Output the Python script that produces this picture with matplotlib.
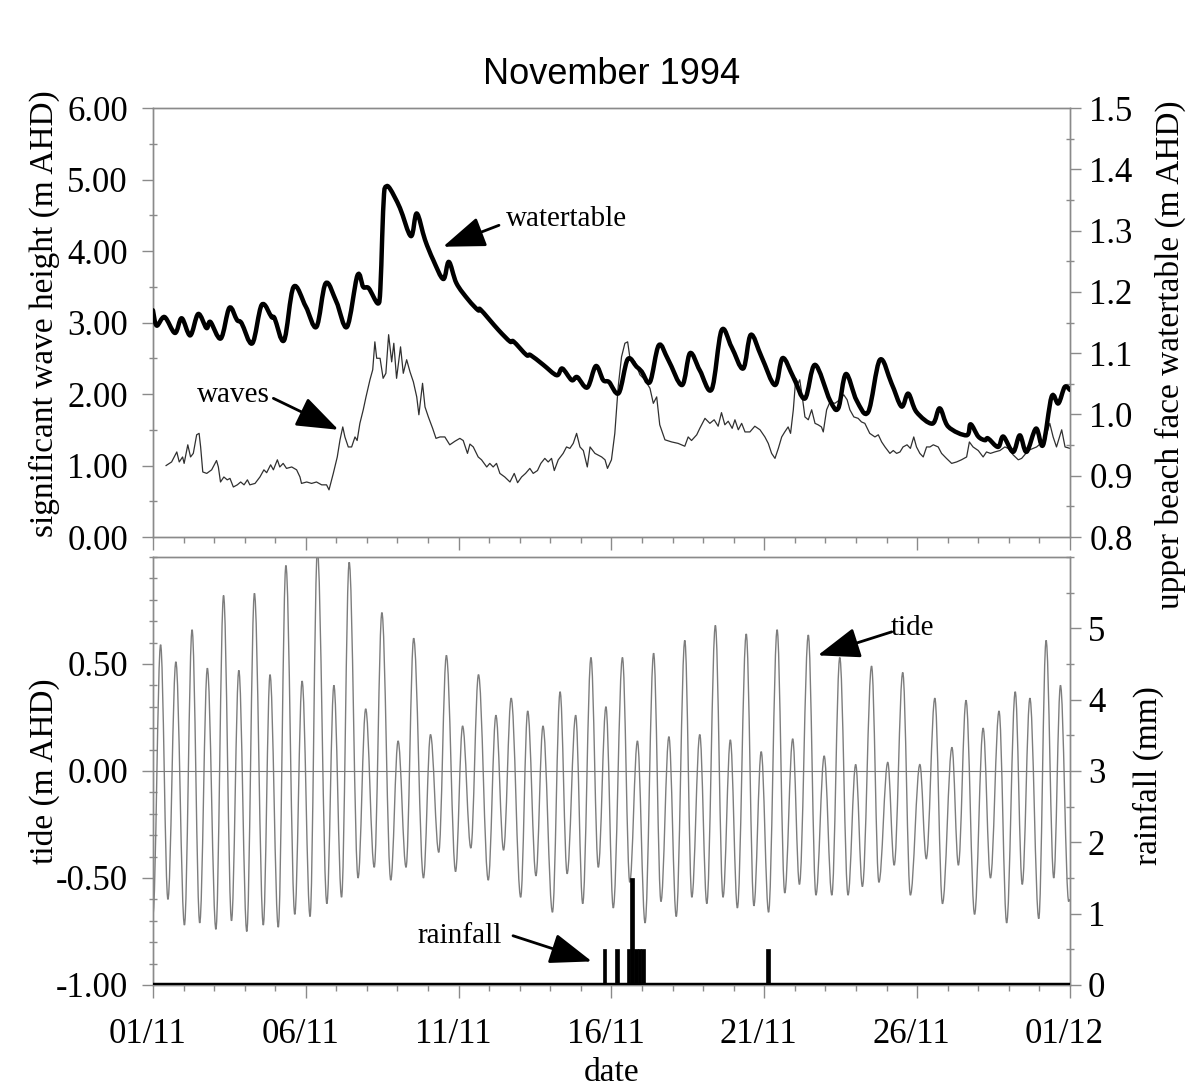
import matplotlib
matplotlib.use("Agg")
import matplotlib.pyplot as plt
import matplotlib.transforms as mtransforms
from matplotlib.path import Path
from matplotlib.patches import PathPatch
from matplotlib.ticker import FixedLocator, MultipleLocator

# ---------------- data ----------------
date_ticks = [0, 5, 10, 15, 20, 25, 30]
date_labels = ["01/11", "06/11", "11/11", "16/11", "21/11", "26/11", "01/12"]

wave_ticks = [0, 1, 2, 3, 4, 5, 6]
wave_labels = ["0.00", "1.00", "2.00", "3.00", "4.00", "5.00", "6.00"]
wt_ticks = [0.8, 0.9, 1.0, 1.1, 1.2, 1.3, 1.4, 1.5]
wt_labels = ["0.8", "0.9", "1.0", "1.1", "1.2", "1.3", "1.4", "1.5"]
tide_ticks = [-1.0, -0.5, 0.0, 0.5]
tide_labels = ["-1.00", "-0.50", "0.00", "0.50"]
rain_ticks = [0, 1, 2, 3, 4, 5]
rain_labels = ["0", "1", "2", "3", "4", "5"]

# upper beach face watertable: (days since 01/11, m AHD)
watertable = [
    (0.00, 1.170), (0.12, 1.145), (0.38, 1.159), (0.72, 1.133), (0.94, 1.157),
    (1.22, 1.129), (1.48, 1.164), (1.75, 1.141), (1.88, 1.151), (2.22, 1.124),
    (2.50, 1.174), (2.75, 1.154), (2.90, 1.149), (3.25, 1.116), (3.56, 1.179),
    (3.88, 1.159), (3.98, 1.157), (4.29, 1.121), (4.60, 1.208), (5.00, 1.176),
    (5.35, 1.143), (5.65, 1.214), (6.00, 1.184), (6.35, 1.143), (6.69, 1.227),
    (6.88, 1.208), (7.06, 1.206), (7.36, 1.181), (7.44, 1.205), (7.50, 1.290),
    (7.56, 1.360), (7.63, 1.372), (7.76, 1.368), (8.08, 1.337), (8.44, 1.291),
    (8.63, 1.328), (8.90, 1.285), (9.17, 1.252), (9.50, 1.221), (9.68, 1.249),
    (9.93, 1.214), (10.32, 1.187), (10.64, 1.170), (10.72, 1.171), (11.30, 1.138),
    (11.68, 1.119), (11.80, 1.119), (12.22, 1.097), (12.35, 1.097), (12.77, 1.081),
    (13.21, 1.064), (13.39, 1.075), (13.70, 1.056), (13.88, 1.061), (14.21, 1.044),
    (14.49, 1.079), (14.73, 1.056), (14.92, 1.053), (15.24, 1.035), (15.53, 1.090),
    (15.82, 1.078), (15.99, 1.070), (16.26, 1.053), (16.55, 1.113), (16.86, 1.089),
    (17.31, 1.048), (17.57, 1.100), (17.89, 1.072), (18.28, 1.041), (18.60, 1.137),
    (18.93, 1.110), (19.31, 1.075), (19.56, 1.130), (19.91, 1.094), (20.35, 1.048),
    (20.60, 1.092), (20.95, 1.061), (21.33, 1.026), (21.66, 1.081), (22.15, 1.023),
    (22.42, 1.010), (22.67, 1.066), (23.02, 1.023), (23.40, 1.004), (23.78, 1.089),
    (24.16, 1.051), (24.49, 1.013), (24.71, 1.034), (24.98, 1.004), (25.50, 0.985),
    (25.74, 1.010), (26.02, 0.980), (26.62, 0.966), (26.75, 0.984), (27.00, 0.964),
    (27.22, 0.958), (27.32, 0.961), (27.65, 0.947), (27.82, 0.964), (28.14, 0.939),
    (28.36, 0.966), (28.58, 0.939), (28.89, 0.977), (29.12, 0.950), (29.40, 1.029),
    (29.62, 1.018), (29.83, 1.045), (30.00, 1.040),
]

# significant wave height: (days since 01/11, m)
waves = [
    (0.43, 1.00), (0.61, 1.05), (0.78, 1.19), (0.86, 1.05), (0.97, 1.12),
    (1.02, 1.03), (1.14, 1.29), (1.23, 1.12), (1.32, 1.17), (1.43, 1.43),
    (1.51, 1.45), (1.56, 1.26), (1.63, 0.91), (1.76, 0.89), (1.92, 0.94),
    (2.08, 1.07), (2.14, 0.98), (2.21, 0.77), (2.32, 0.84), (2.43, 0.80),
    (2.52, 0.82), (2.63, 0.70), (2.76, 0.73), (2.87, 0.77), (2.98, 0.73),
    (3.09, 0.80), (3.17, 0.73), (3.34, 0.75), (3.50, 0.84), (3.63, 0.94),
    (3.72, 0.90), (3.85, 1.01), (3.94, 0.94), (4.07, 1.08), (4.15, 0.98),
    (4.26, 1.03), (4.37, 0.96), (4.54, 0.98), (4.70, 0.94), (4.81, 0.84),
    (4.86, 0.75), (5.03, 0.77), (5.19, 0.75), (5.35, 0.77), (5.52, 0.73),
    (5.68, 0.73), (5.76, 0.66), (5.90, 0.89), (6.03, 1.12), (6.12, 1.36),
    (6.21, 1.54), (6.28, 1.40), (6.39, 1.26), (6.50, 1.26), (6.61, 1.40),
    (6.68, 1.35), (6.77, 1.59), (6.88, 1.78), (6.97, 1.96), (7.10, 2.20),
    (7.19, 2.34), (7.26, 2.73), (7.32, 2.50), (7.43, 2.50), (7.53, 2.22),
    (7.62, 2.29), (7.71, 2.83), (7.81, 2.45), (7.88, 2.71), (7.97, 2.22),
    (8.10, 2.66), (8.19, 2.29), (8.30, 2.48), (8.41, 2.31), (8.52, 2.17),
    (8.63, 1.96), (8.70, 1.71), (8.82, 2.15), (8.90, 1.82), (9.01, 1.68),
    (9.15, 1.52), (9.26, 1.38), (9.39, 1.40), (9.55, 1.40), (9.71, 1.29),
    (9.88, 1.34), (10.04, 1.38), (10.15, 1.35), (10.29, 1.17), (10.37, 1.30),
    (10.48, 1.26), (10.64, 1.12), (10.75, 1.08), (10.92, 0.98), (11.02, 1.03),
    (11.13, 0.98), (11.24, 1.03), (11.35, 0.89), (11.51, 0.84), (11.68, 0.77),
    (11.82, 0.89), (11.93, 0.76), (12.06, 0.84), (12.19, 0.89), (12.33, 0.96),
    (12.44, 0.89), (12.58, 0.93), (12.69, 1.03), (12.82, 1.10), (12.93, 1.05),
    (13.04, 1.10), (13.13, 0.93), (13.26, 1.08), (13.42, 1.17), (13.53, 1.26),
    (13.64, 1.24), (13.75, 1.31), (13.86, 1.45), (13.97, 1.26), (14.08, 1.21),
    (14.21, 0.98), (14.30, 1.26), (14.46, 1.17), (14.68, 1.12), (14.79, 1.08),
    (14.87, 0.96), (15.00, 1.08), (15.11, 1.45), (15.22, 2.10), (15.33, 2.52),
    (15.44, 2.71), (15.53, 2.73), (15.60, 2.52), (15.77, 2.45), (15.93, 2.27),
    (16.09, 2.20), (16.26, 2.08), (16.37, 1.87), (16.48, 1.96), (16.58, 1.57),
    (16.75, 1.36), (16.97, 1.33), (17.18, 1.31), (17.40, 1.27), (17.51, 1.40),
    (17.62, 1.35), (17.79, 1.43), (17.89, 1.52), (18.06, 1.66), (18.22, 1.59),
    (18.36, 1.64), (18.49, 1.55), (18.60, 1.74), (18.71, 1.57), (18.82, 1.62),
    (18.95, 1.52), (19.04, 1.64), (19.15, 1.50), (19.26, 1.59), (19.37, 1.47),
    (19.53, 1.47), (19.69, 1.55), (19.86, 1.50), (20.02, 1.40), (20.13, 1.31),
    (20.24, 1.17), (20.35, 1.10), (20.46, 1.24), (20.57, 1.40), (20.67, 1.47),
    (20.78, 1.54), (20.86, 1.45), (20.95, 1.78), (21.03, 2.22), (21.11, 2.15),
    (21.16, 2.20), (21.25, 1.94), (21.33, 1.68), (21.44, 1.64), (21.55, 1.78),
    (21.66, 1.59), (21.76, 1.57), (21.87, 1.54), (21.93, 1.47), (22.04, 1.78),
    (22.15, 1.89), (22.31, 1.87), (22.47, 1.92), (22.60, 1.99), (22.71, 1.92),
    (22.80, 1.78), (22.93, 1.68), (23.07, 1.66), (23.18, 1.61), (23.29, 1.59),
    (23.45, 1.45), (23.62, 1.40), (23.73, 1.43), (23.84, 1.33), (23.95, 1.26),
    (24.11, 1.17), (24.22, 1.21), (24.33, 1.17), (24.44, 1.19), (24.54, 1.26),
    (24.67, 1.29), (24.78, 1.24), (24.89, 1.40), (24.98, 1.26), (25.09, 1.17),
    (25.20, 1.12), (25.31, 1.26), (25.42, 1.26), (25.53, 1.29), (25.69, 1.26),
    (25.80, 1.17), (25.96, 1.10), (26.13, 1.03), (26.29, 1.05), (26.45, 1.08),
    (26.62, 1.12), (26.71, 1.33), (26.83, 1.26), (27.00, 1.21), (27.16, 1.12),
    (27.27, 1.19), (27.40, 1.17), (27.54, 1.19), (27.71, 1.21), (27.87, 1.26),
    (27.98, 1.24), (28.14, 1.15), (28.31, 1.08), (28.42, 1.10), (28.52, 1.15),
    (28.63, 1.21), (28.91, 1.26), (29.18, 1.36), (29.34, 1.59), (29.45, 1.40),
    (29.56, 1.26), (29.73, 1.50), (29.84, 1.26), (30.00, 1.24),
]

# tide: successive high and low water levels (days since 01/11, m AHD)
tide = [
    (0.00, -0.67), (0.25, 0.59), (0.49, -0.60), (0.75, 0.51), (1.03, -0.72),
    (1.28, 0.66), (1.53, -0.71), (1.78, 0.48), (2.06, -0.74), (2.31, 0.82),
    (2.57, -0.70), (2.81, 0.47), (3.07, -0.75), (3.32, 0.83), (3.61, -0.72),
    (3.83, 0.45), (4.10, -0.73), (4.35, 0.96), (4.64, -0.67), (4.88, 0.42),
    (5.14, -0.68), (5.38, 1.03), (5.69, -0.62), (5.92, 0.40), (6.17, -0.59),
    (6.42, 0.975), (6.71, -0.50), (6.96, 0.29), (7.24, -0.45), (7.49, 0.74),
    (7.78, -0.51), (8.02, 0.14), (8.28, -0.45), (8.53, 0.62), (8.85, -0.50),
    (9.08, 0.17), (9.35, -0.38), (9.60, 0.54), (9.90, -0.47), (10.13, 0.21),
    (10.40, -0.36), (10.65, 0.45), (10.97, -0.51), (11.22, 0.26), (11.47, -0.37),
    (11.72, 0.34), (12.03, -0.59), (12.26, 0.28), (12.53, -0.49), (12.76, 0.21),
    (13.07, -0.66), (13.32, 0.37), (13.55, -0.48), (13.83, 0.26), (14.06, -0.62),
    (14.33, 0.53), (14.57, -0.45), (14.82, 0.30), (15.06, -0.64), (15.36, 0.53),
    (15.60, -0.52), (15.85, 0.14), (16.10, -0.71), (16.38, 0.55), (16.62, -0.61),
    (16.88, 0.16), (17.12, -0.68), (17.40, 0.61), (17.63, -0.59), (17.89, 0.17),
    (18.12, -0.62), (18.40, 0.68), (18.65, -0.59), (18.89, 0.145), (19.12, -0.64),
    (19.41, 0.64), (19.66, -0.63), (19.90, 0.09), (20.14, -0.66), (20.42, 0.66),
    (20.67, -0.57), (20.93, 0.15), (21.15, -0.53), (21.44, 0.635), (21.69, -0.58),
    (21.96, 0.07), (22.21, -0.58), (22.47, 0.53), (22.74, -0.58), (22.99, 0.03),
    (23.21, -0.54), (23.51, 0.49), (23.75, -0.52), (24.04, 0.04), (24.25, -0.44),
    (24.53, 0.46), (24.78, -0.58), (25.09, 0.03), (25.30, -0.41), (25.58, 0.34),
    (25.83, -0.62), (26.14, 0.11), (26.35, -0.44), (26.60, 0.33), (26.88, -0.67),
    (27.16, 0.20), (27.40, -0.50), (27.68, 0.28), (27.93, -0.71), (28.21, 0.37),
    (28.44, -0.53), (28.69, 0.34), (28.98, -0.69), (29.22, 0.61), (29.47, -0.50),
    (29.69, 0.40), (29.96, -0.61), (30.00, -0.60),
]

# rainfall (mm)
rain_day = [14.77, 15.19, 15.56, 15.67, 15.80, 15.92, 16.03, 20.13]
rain_mm = [0.5, 0.5, 0.5, 1.5, 0.5, 0.5, 0.5, 0.5]

# ---------------- styling ----------------
SERIF = "Liberation Serif"
SANS = "Liberation Sans"
FRAME = "#8a8a8a"
TICK_FS = 25
LABEL_FS = 24
NOTE_FS = 21


def level_tangent_path(points, k=0.3634):
    """Cubic segments between successive extremes, flat at each extreme."""
    verts = [points[0]]
    codes = [Path.MOVETO]
    for (x0, y0), (x1, y1) in zip(points[:-1], points[1:]):
        dx = x1 - x0
        verts += [(x0 + k * dx, y0), (x1 - k * dx, y1), (x1, y1)]
        codes += [Path.CURVE4] * 3
    return Path(verts, codes)


def catmull_rom_path(points):
    """Smooth cubic curve passing through every point."""
    n = len(points)
    verts = [points[0]]
    codes = [Path.MOVETO]
    for i in range(n - 1):
        p0 = points[i - 1] if i > 0 else points[i]
        p1, p2 = points[i], points[i + 1]
        p3 = points[i + 2] if i + 2 < n else points[i + 1]
        c1 = (p1[0] + (p2[0] - p0[0]) / 6, p1[1] + (p2[1] - p0[1]) / 6)
        c2 = (p2[0] - (p3[0] - p1[0]) / 6, p2[1] - (p3[1] - p1[1]) / 6)
        verts += [c1, c2, p2]
        codes += [Path.CURVE4] * 3
    return Path(verts, codes)


fig = plt.figure(figsize=(11.94, 10.88), dpi=100)
fig.patch.set_facecolor("white")

ax_w = fig.add_axes([0.1281, 0.5064, 0.7680, 0.3943])
ax_t = fig.add_axes([0.1281, 0.0947, 0.7680, 0.3934])
ax_wt = ax_w.twinx()
ax_r = ax_t.twinx()

for ax in (ax_w, ax_t, ax_wt, ax_r):
    ax.set_xlim(0, 30)
    for sp in ax.spines.values():
        sp.set_color(FRAME)
        sp.set_linewidth(1.0)

# ---- top panel: waves (left) and watertable (right) ----
wave_day = [d for d, _ in waves]
wave_hs = [h for _, h in waves]
ax_w.plot(wave_day, wave_hs, color="#303030", lw=0.9, zorder=2)
ax_w.set_ylim(0, 6)

ax_wt.set_ylim(0.8, 1.5)
ax_wt.add_patch(PathPatch(catmull_rom_path(watertable), facecolor="none",
                          edgecolor="black", lw=3.2, joinstyle="round",
                          capstyle="round", zorder=3))

# ---- bottom panel: tide (left) and rainfall (right) ----
ax_t.set_ylim(-1.0, 1.0)
ax_t.axhline(0.0, color="#7a7a7a", lw=0.8, zorder=1)
ax_t.add_patch(PathPatch(level_tangent_path(tide), facecolor="none",
                         edgecolor="#7d7d7d", lw=1.0, zorder=2))

ax_r.set_ylim(0, 6)
ax_r.bar(rain_day, rain_mm, width=0.12, color="black", edgecolor="black",
         linewidth=0.5, align="center", zorder=3)
ax_r.axhline(0.0, color="black", lw=3.2, zorder=4)

# ---- ticks ----
for ax in (ax_w, ax_t):
    ax.xaxis.set_major_locator(FixedLocator(date_ticks))
    ax.xaxis.set_minor_locator(MultipleLocator(1))
    ax.tick_params(axis="x", which="major", direction="out", length=9, width=1,
                   color=FRAME, top=False)
    ax.tick_params(axis="x", which="minor", direction="out", length=4, width=1,
                   color=FRAME, top=False)
ax_w.set_xticklabels([])
ax_t.set_xticklabels(date_labels, fontsize=TICK_FS, family=SERIF)
ax_t.tick_params(axis="x", which="major", pad=15)
shift = mtransforms.ScaledTranslation(-0.055, 0, fig.dpi_scale_trans)
for lab in ax_t.get_xticklabels():
    lab.set_transform(lab.get_transform() + shift)

ax_w.set_yticks(wave_ticks)
ax_w.set_yticklabels(wave_labels, fontsize=TICK_FS, family=SERIF)
ax_w.yaxis.set_minor_locator(MultipleLocator(0.5))

ax_wt.set_yticks(wt_ticks)
ax_wt.set_yticklabels(wt_labels, fontsize=TICK_FS, family=SERIF)
ax_wt.yaxis.set_minor_locator(MultipleLocator(0.05))

ax_t.set_yticks(tide_ticks)
ax_t.set_yticklabels(tide_labels, fontsize=TICK_FS, family=SERIF)
ax_t.yaxis.set_minor_locator(MultipleLocator(0.1))

ax_r.set_yticks(rain_ticks)
ax_r.set_yticklabels(rain_labels, fontsize=TICK_FS, family=SERIF)
ax_r.yaxis.set_minor_locator(MultipleLocator(0.5))

for ax in (ax_w, ax_t, ax_wt, ax_r):
    ax.tick_params(axis="y", which="major", direction="out", length=8, width=1,
                   color=FRAME)
    ax.tick_params(axis="y", which="minor", direction="inout", length=6, width=1,
                   color=FRAME)
for ax in (ax_w, ax_t):
    ax.tick_params(axis="y", which="major", pad=10)
ax_wt.tick_params(axis="y", which="major", pad=6)
ax_r.tick_params(axis="y", which="major", pad=5)
ax_wt.tick_params(axis="x", which="both", bottom=False, top=False)
ax_r.tick_params(axis="x", which="both", bottom=False, top=False)

# ---- axis labels ----
ax_w.set_ylabel("significant wave height (m AHD)", fontsize=LABEL_FS, family=SERIF)
ax_w.yaxis.set_label_coords(-0.118, 0.52)
ax_wt.set_ylabel("upper beach face watertable (m AHD)", fontsize=LABEL_FS,
                 family=SERIF, rotation=90)
ax_wt.yaxis.set_label_coords(1.109, 0.424)
ax_t.set_ylabel("tide (m AHD)", fontsize=LABEL_FS, family=SERIF)
ax_t.yaxis.set_label_coords(-0.118, 0.50)
ax_r.set_ylabel("rainfall (mm)", fontsize=LABEL_FS, family=SERIF, rotation=90)
ax_r.yaxis.set_label_coords(1.085, 0.49)
for lab in (ax_w.yaxis.label, ax_wt.yaxis.label, ax_t.yaxis.label, ax_r.yaxis.label):
    lab.set_va("center")
    lab.set_ha("center")

ax_t.set_xlabel("date", fontsize=LABEL_FS, family=SERIF)
ax_t.xaxis.set_label_coords(0.5, -0.205)
ax_t.xaxis.label.set_va("center")

fig.text(0.5126, 1 - 75 / 1088, "November 1994", ha="center", va="center",
         fontsize=26, family=SANS)

# ---- annotations ----
arrow = dict(arrowstyle="-|>,head_length=2.6,head_width=0.95", mutation_scale=10,
             lw=2.0, color="black", shrinkA=0, shrinkB=0)
ax_w.annotate("", xy=(9.49, 4.06), xytext=(11.32, 4.36), arrowprops=arrow, zorder=5)
ax_w.text(11.55, 4.45, "watertable", fontsize=NOTE_FS, family=SERIF,
          ha="left", va="center")
ax_w.annotate("", xy=(6.07, 1.50), xytext=(3.94, 1.94), arrowprops=arrow, zorder=5)
ax_w.text(2.62, 1.99, "waves", fontsize=NOTE_FS, family=SERIF,
          ha="center", va="center")
ax_t.annotate("", xy=(21.75, 0.54), xytext=(24.17, 0.65), arrowprops=arrow, zorder=5)
ax_t.text(24.85, 0.67, "tide", fontsize=NOTE_FS, family=SERIF,
          ha="center", va="center")
ax_t.annotate("", xy=(14.36, -0.89), xytext=(11.78, -0.77), arrowprops=arrow, zorder=5)
ax_t.text(10.04, -0.77, "rainfall", fontsize=NOTE_FS, family=SERIF,
          ha="center", va="center")

fig.savefig("out.png", dpi=100, facecolor="white")
